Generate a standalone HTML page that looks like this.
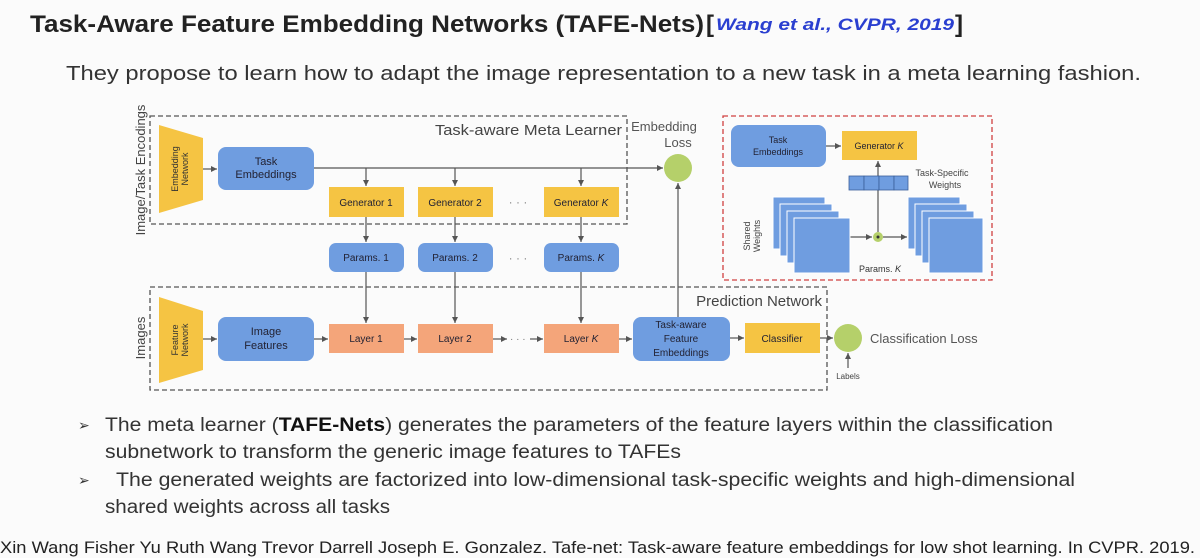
<!DOCTYPE html>
<html><head><meta charset="utf-8"><style>
html,body{margin:0;padding:0;background:#fbfbfb;}
svg{display:block;font-family:"Liberation Sans",sans-serif;}
</style></head><body>
<svg width="1200" height="558" viewBox="0 0 1200 558" xmlns="http://www.w3.org/2000/svg">
<defs>
<marker id="a" markerWidth="6" markerHeight="6" refX="5" refY="3" orient="auto"><path d="M0,0.5 L5,3 L0,5.5z" fill="#555"/></marker>
</defs>
<rect width="1200" height="558" fill="#fbfbfb"/>
<!-- Title -->
<text x="30" y="32" font-size="24" font-weight="bold" fill="#222" textLength="674" lengthAdjust="spacingAndGlyphs">Task-Aware Feature Embedding Networks (TAFE-Nets)</text>
<text x="706" y="32" font-size="24" font-weight="bold" fill="#222">[</text>
<text x="716" y="30" font-size="17" font-style="italic" font-weight="bold" fill="#2a3fd0" textLength="238" lengthAdjust="spacingAndGlyphs">Wang et al., CVPR, 2019</text>
<text x="955" y="32" font-size="24" font-weight="bold" fill="#222">]</text>
<text x="66" y="80" font-size="20" fill="#333" textLength="1075" lengthAdjust="spacingAndGlyphs">They propose to learn how to adapt the image representation to a new task in a meta learning fashion.</text>

<!-- diagram -->
<g stroke="#555" stroke-width="1.3" fill="none" stroke-dasharray="5,3">
<rect x="150" y="116" width="477" height="108"/>
<rect x="150" y="287" width="677" height="103"/>
</g>
<rect x="723" y="116" width="269" height="164" fill="none" stroke="#d04040" stroke-width="1.3" stroke-dasharray="5,3"/>
<text x="622" y="135" font-size="15" fill="#444" text-anchor="end" textLength="187" lengthAdjust="spacingAndGlyphs">Task-aware Meta Learner</text>
<text x="822" y="306" font-size="15" fill="#444" text-anchor="end">Prediction Network</text>
<text transform="translate(145,170) rotate(-90)" font-size="13" fill="#444" text-anchor="middle">Image/Task Encodings</text>
<text transform="translate(145,338) rotate(-90)" font-size="13" fill="#444" text-anchor="middle">Images</text>

<!-- trapezoids -->
<polygon points="159,125 203,138 203,200 159,213" fill="#f5c443"/>
<polygon points="159,297 203,311 203,370 159,383" fill="#f5c443"/>
<text transform="translate(180,169) rotate(-90)" font-size="9" fill="#333" text-anchor="middle"><tspan x="0" dy="-2">Embedding</tspan><tspan x="0" dy="10">Network</tspan></text>
<text transform="translate(180,340) rotate(-90)" font-size="9" fill="#333" text-anchor="middle"><tspan x="0" dy="-2">Feature</tspan><tspan x="0" dy="10">Network</tspan></text>

<g fill="#6f9de0">
<rect x="218" y="147" width="96" height="43" rx="8"/>
<rect x="218" y="317" width="96" height="44" rx="8"/>
<rect x="329" y="243" width="75" height="29" rx="7"/>
<rect x="418" y="243" width="75" height="29" rx="7"/>
<rect x="544" y="243" width="75" height="29" rx="7"/>
<rect x="633" y="317" width="97" height="44" rx="8"/>
<rect x="731" y="125" width="95" height="42" rx="8"/>
</g>
<g fill="#f5c443">
<rect x="329" y="187" width="75" height="30"/>
<rect x="418" y="187" width="75" height="30"/>
<rect x="544" y="187" width="75" height="30"/>
<rect x="745" y="323" width="75" height="30"/>
<rect x="842" y="131" width="75" height="29"/>
</g>
<g fill="#f4a57a">
<rect x="329" y="324" width="75" height="29"/>
<rect x="418" y="324" width="75" height="29"/>
<rect x="544" y="324" width="75" height="29"/>
</g>
<g fill="#b5d06a">
<circle cx="678" cy="168" r="14"/>
<circle cx="848" cy="338" r="14"/>
<circle cx="878" cy="237" r="5"/>
</g>

<g font-size="10" fill="#223" text-anchor="middle">
<text x="266" y="165" font-size="11">Task</text><text x="266" y="178" font-size="11">Embeddings</text>
<text x="266" y="335" font-size="11">Image</text><text x="266" y="349" font-size="11">Features</text>
<text x="366" y="206">Generator 1</text><text x="455" y="206">Generator 2</text><text x="581" y="206">Generator <tspan font-style="italic">K</tspan></text>
<text x="366" y="261">Params. 1</text><text x="455" y="261">Params. 2</text><text x="581" y="261">Params. <tspan font-style="italic">K</tspan></text>
<text x="366" y="342">Layer 1</text><text x="455" y="342">Layer 2</text><text x="581" y="342">Layer <tspan font-style="italic">K</tspan></text>
<text x="681" y="328">Task-aware</text><text x="681" y="342">Feature</text><text x="681" y="356">Embeddings</text>
<text x="782" y="342">Classifier</text>
<text x="778" y="143" font-size="9">Task</text><text x="778" y="155" font-size="9">Embeddings</text>
<text x="879" y="149" font-size="9">Generator <tspan font-style="italic">K</tspan></text>
</g>
<g font-size="12" fill="#888" text-anchor="middle">
<text x="518" y="206">· · ·</text><text x="518" y="262">· · ·</text>
</g>
<text x="664" y="131" font-size="13" fill="#555" text-anchor="middle">Embedding</text>
<text x="678" y="147" font-size="13" fill="#555" text-anchor="middle">Loss</text>
<text x="870" y="343" font-size="13" fill="#555">Classification Loss</text>
<text x="848" y="379" font-size="8" fill="#444" text-anchor="middle">Labels</text>
<text x="942" y="176" font-size="9" fill="#444" text-anchor="middle">Task-Specific</text>
<text x="945" y="188" font-size="9" fill="#444" text-anchor="middle">Weights</text>
<text x="880" y="272" font-size="9" fill="#333" text-anchor="middle">Params. <tspan font-style="italic">K</tspan></text>
<text transform="translate(752,236) rotate(-90)" font-size="9" fill="#444" text-anchor="middle"><tspan x="0" dy="-2">Shared</tspan><tspan x="0" dy="10">Weights</tspan></text>

<!-- connectors -->
<g stroke="#555" stroke-width="1.2" fill="none" marker-end="url(#a)">
<line x1="203" y1="169" x2="217" y2="169"/>
<line x1="203" y1="339" x2="217" y2="339"/>
<line x1="314" y1="168" x2="663" y2="168"/>
<line x1="366" y1="168" x2="366" y2="186"/>
<line x1="455" y1="168" x2="455" y2="186"/>
<line x1="581" y1="168" x2="581" y2="186"/>
<line x1="366" y1="217" x2="366" y2="242"/>
<line x1="455" y1="217" x2="455" y2="242"/>
<line x1="581" y1="217" x2="581" y2="242"/>
<line x1="366" y1="272" x2="366" y2="323"/>
<line x1="455" y1="272" x2="455" y2="323"/>
<line x1="581" y1="272" x2="581" y2="323"/>
<line x1="314" y1="339" x2="328" y2="339"/>
<line x1="404" y1="339" x2="417" y2="339"/>
<line x1="493" y1="339" x2="507" y2="339"/>
<line x1="530" y1="339" x2="543" y2="339"/>
<line x1="619" y1="339" x2="632" y2="339"/>
<line x1="678" y1="317" x2="678" y2="183"/>
<line x1="730" y1="338" x2="744" y2="338"/>
<line x1="820" y1="338" x2="833" y2="338"/>
<line x1="848" y1="368" x2="848" y2="353"/>
<line x1="826" y1="146" x2="841" y2="146"/>
<line x1="878" y1="232" x2="878" y2="161"/>
<line x1="850" y1="237" x2="872" y2="237"/>
<line x1="883" y1="237" x2="907" y2="237"/>
</g>
<text x="510" y="342" font-size="10" fill="#777">· · ·</text>
<!-- task specific weights bar -->
<g fill="#6f9de0" stroke="#3a5f9a" stroke-width="0.8">
<rect x="849" y="176" width="15" height="14"/><rect x="864" y="176" width="15" height="14"/><rect x="879" y="176" width="15" height="14"/><rect x="894" y="176" width="14" height="14"/>
</g>
<!-- stacks -->
<g fill="#6f9de0" stroke="#fff" stroke-width="1">
<rect x="773" y="197" width="52" height="52"/><rect x="780" y="204" width="52" height="52"/><rect x="787" y="211" width="52" height="52"/><rect x="794" y="218" width="56" height="55"/>
<rect x="908" y="197" width="52" height="52"/><rect x="915" y="204" width="52" height="52"/><rect x="922" y="211" width="52" height="52"/><rect x="929" y="218" width="54" height="55"/>
</g>
<circle cx="878" cy="237" r="1.5" fill="#333"/>

<!-- bullets -->
<g font-size="19" fill="#333">
<text x="78" y="430" font-size="14">➢</text>
<text x="105" y="431" textLength="948" lengthAdjust="spacingAndGlyphs">The meta learner (<tspan font-weight="bold" fill="#111">TAFE-Nets</tspan>) generates the parameters of the feature layers within the classification</text>
<text x="105" y="458" textLength="576" lengthAdjust="spacingAndGlyphs">subnetwork to transform the generic image features to TAFEs</text>
<text x="78" y="485" font-size="14">➢</text>
<text x="116" y="486" textLength="959" lengthAdjust="spacingAndGlyphs">The generated weights are factorized into low-dimensional task-specific weights and high-dimensional</text>
<text x="105" y="513" textLength="285" lengthAdjust="spacingAndGlyphs">shared weights across all tasks</text>
</g>
<text x="0" y="553" font-size="17" fill="#222" textLength="1195" lengthAdjust="spacingAndGlyphs">Xin Wang Fisher Yu Ruth Wang Trevor Darrell Joseph E. Gonzalez. Tafe-net: Task-aware feature embeddings for low shot learning. In CVPR. 2019.</text>
</svg>
</body></html>
